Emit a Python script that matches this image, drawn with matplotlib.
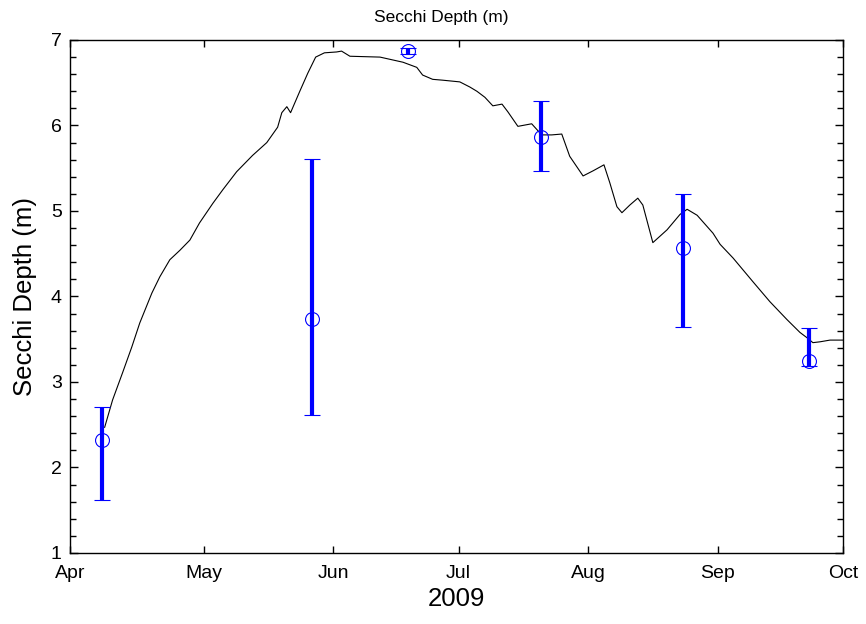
import matplotlib as mpl
mpl.use('agg')
import numpy as np
import matplotlib.pyplot as plt
from matplotlib.ticker import MultipleLocator

plt.rcParams['font.family'] = ['Liberation Sans', 'DejaVu Sans']

# model run, day of year 2009 vs secchi depth
model_doy = [97.3, 99.2, 101.6, 103.8, 105.7, 108.6, 110.5, 112.9, 115.3, 117.7,
             120.0, 123.2, 125.6, 128.9, 132.7, 136.1, 138.7, 139.7, 140.9, 141.8,
             144.0, 145.9, 147.8, 149.9, 152.8, 154.0, 156.0, 163.2, 168.7, 172.0,
             173.4, 175.8, 178.2, 182.3, 184.7, 186.4, 188.3, 190.2, 192.4, 193.8,
             196.2, 199.5, 201.9, 204.3, 206.7, 208.6, 211.8, 214.2, 216.8, 218.2,
             219.9, 221.1, 223.0, 224.9, 226.1, 228.5, 231.9, 235.0, 236.7, 239.1,
             242.9, 244.6, 247.7, 252.5, 256.5, 260.6, 263.7, 265.6, 266.8, 268.5,
             270.9, 274.0]
model_depth = [2.47, 2.79, 3.11, 3.41, 3.69, 4.04, 4.23, 4.43, 4.54, 4.66,
               4.86, 5.09, 5.25, 5.46, 5.65, 5.80, 5.98, 6.15, 6.22, 6.15,
               6.40, 6.61, 6.80, 6.85, 6.86, 6.87, 6.81, 6.80, 6.74, 6.68,
               6.59, 6.54, 6.53, 6.51, 6.45, 6.40, 6.33, 6.23, 6.25, 6.16,
               5.99, 6.02, 5.89, 5.89, 5.90, 5.64, 5.41, 5.47, 5.54, 5.33,
               5.05, 4.98, 5.07, 5.15, 5.07, 4.63, 4.78, 4.96, 5.02, 4.95,
               4.74, 4.61, 4.45, 4.17, 3.94, 3.73, 3.58, 3.51, 3.46, 3.47,
               3.49, 3.49]

# field samples: mean with min/max
obs_doy = [96.6, 146.9, 169.9, 201.7, 235.7, 265.9]
obs_mean = [2.32, 3.74, 6.87, 5.87, 4.57, 3.25]
obs_low = [1.62, 2.61, 6.835, 5.47, 3.64, 3.19]
obs_high = [2.71, 5.61, 6.905, 6.29, 5.20, 3.63]

month_doy = [89, 121, 152, 182, 213, 244, 274]
month_lbl = ['Apr', 'May', 'Jun', 'Jul', 'Aug', 'Sep', 'Oct']

fig = plt.figure(figsize=(8.66, 6.24), dpi=100)
ax = fig.add_axes([0.0808, 0.1138, 0.8926, 0.8221])

ax.plot(model_doy, model_depth, color='black', linewidth=0.8)

m = np.array(obs_mean)
yerr = [m - np.array(obs_low), np.array(obs_high) - m]
ax.errorbar(obs_doy, obs_mean, yerr=yerr, fmt='o', color='blue', ecolor='blue',
            markerfacecolor='none', markeredgecolor='blue', markersize=10,
            markeredgewidth=0.8, elinewidth=3, capsize=5.5, capthick=3)

ax.set_xlim(89, 274)
ax.set_ylim(1, 7)
ax.set_xticks(month_doy)
ax.set_xticklabels(month_lbl)
ax.yaxis.set_major_locator(MultipleLocator(1))
ax.yaxis.set_minor_locator(MultipleLocator(0.2))
ax.tick_params(axis='both', which='both', direction='in', top=True, right=True,
               labelsize=14, width=1)
ax.tick_params(axis='y', which='major', length=6, pad=6)
ax.tick_params(axis='y', which='minor', length=4)
ax.tick_params(axis='x', which='major', length=5, pad=9)
for s in ax.spines.values():
    s.set_linewidth(1)

ax.set_xlabel('2009', fontsize=18.5, labelpad=3)
ax.set_ylabel('Secchi Depth (m)', fontsize=18.5, labelpad=10)
ax.set_title('Secchi Depth (m)', fontsize=12.5, pad=13, x=0.48)

plt.savefig('out.png', dpi=100)
